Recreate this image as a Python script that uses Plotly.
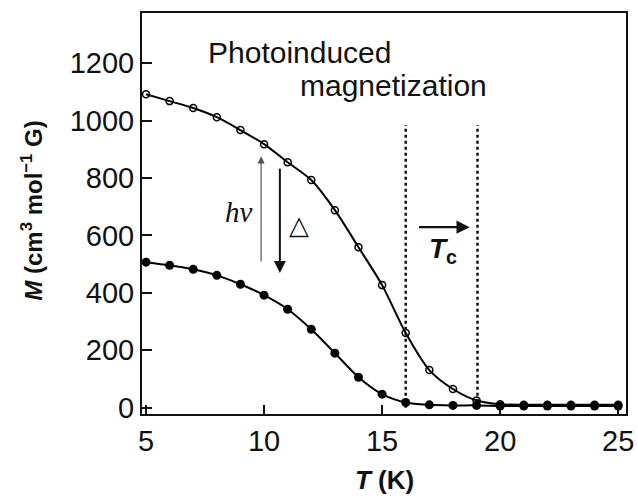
import plotly.graph_objects as go

# Data
T_photo = [5, 6, 7, 8, 9, 10, 11, 12, 13, 14, 15, 16, 17, 18, 19, 20, 21, 22, 23, 24, 25]
M_photo = [1092, 1068, 1044, 1012, 967, 918, 855, 793, 688, 559, 427, 260, 131, 65, 25, 12, 10, 10, 10, 10, 10]

T_dark = [5, 6, 7, 8, 9, 10, 11, 12, 13, 14, 15, 16, 17, 18, 19, 20, 21, 22, 23, 24, 25]
M_dark = [507, 496, 482, 461, 430, 392, 343, 273, 190, 106, 47, 18, 10, 8, 8, 6, 6, 6, 6, 6, 6]

Tc_lines = [16.0, 19.04]
Tc_line_M = [0, 985]

x_ticks = [5, 10, 15, 20, 25]
y_ticks = [0, 200, 400, 600, 800, 1000, 1200]

FONT = "Liberation Sans, Arial, sans-serif"

fig = go.Figure()

for t in Tc_lines:
    fig.add_trace(go.Scatter(x=[t, t], y=Tc_line_M, mode="lines",
                             line=dict(color="#111", width=2.5, dash="dot"),
                             showlegend=False, hoverinfo="skip"))

fig.add_trace(go.Scatter(x=T_photo, y=M_photo, mode="lines+markers",
                         line=dict(color="black", width=2, shape="spline", smoothing=0.8),
                         marker=dict(symbol="circle-open", size=7, color="black", line=dict(width=1.5)),
                         showlegend=False))
fig.add_trace(go.Scatter(x=T_dark, y=M_dark, mode="lines+markers",
                         line=dict(color="black", width=2, shape="spline", smoothing=0.8),
                         marker=dict(symbol="circle", size=9, color="black"),
                         showlegend=False))

ann = []
ann.append(dict(x=7.54, y=1239, text="Photoinduced", showarrow=False, xanchor="left",
                yanchor="middle", font=dict(family=FONT, size=30, color="#111")))
ann.append(dict(x=11.42, y=1124, text="magnetization", showarrow=False, xanchor="left",
                yanchor="middle", font=dict(family=FONT, size=30, color="#111")))
ann.append(dict(x=8.92, y=681, text="<i>hν</i>", showarrow=False,
                font=dict(family="Liberation Serif, Times New Roman, serif", size=29, color="#111")))
ann.append(dict(x=11.5, y=636, text="△", showarrow=False,
                font=dict(family="DejaVu Sans", size=26, color="#111")))
ann.append(dict(x=17.58, y=549, text="<b><i>T</i></b><b><sub>c</sub></b>", showarrow=False,
                font=dict(family=FONT, size=28, color="#111")))
# arrows
ann.append(dict(x=9.875, y=876, ax=9.875, ay=504, xref="x", yref="y", axref="x", ayref="y",
                text="", showarrow=True, arrowhead=2, arrowsize=1.2, arrowwidth=1.2, arrowcolor="#555"))
ann.append(dict(x=10.67, y=469, ax=10.67, ay=838, xref="x", yref="y", axref="x", ayref="y",
                text="", showarrow=True, arrowhead=2, arrowsize=1.2, arrowwidth=2, arrowcolor="#111"))
ann.append(dict(x=18.71, y=629, ax=16.5, ay=629, xref="x", yref="y", axref="x", ayref="y",
                text="", showarrow=True, arrowhead=2, arrowsize=1.2, arrowwidth=2.2, arrowcolor="#111"))
# axis titles
ann.append(dict(x=0.5, y=-0.1646, xref="paper", yref="paper", showarrow=False,
                xanchor="center", yanchor="middle",
                text="<b><i>T</i> (K)</b>", font=dict(family=FONT, size=26, color="#111")))
ann.append(dict(x=-0.2276, y=0.509, xref="paper", yref="paper", showarrow=False, textangle=-90,
                xanchor="center", yanchor="middle",
                text="<b><i>M</i> (cm<sup>3</sup> mol<sup>−1</sup> G)</b>",
                font=dict(family=FONT, size=24, color="#111")))

fig.update_layout(
    width=638, height=496,
    margin=dict(l=142, r=4, t=13, b=82),
    paper_bgcolor="white", plot_bgcolor="white",
    annotations=ann,
    xaxis=dict(range=[4.83, 25.33], tickvals=x_ticks, ticks="inside", ticklen=9, tickwidth=1.5,
               tickcolor="#111", showline=True, linecolor="#111", linewidth=2, mirror=True,
               showgrid=False, zeroline=False, ticklabeloverflow="allow",
               tickfont=dict(family=FONT, size=29, color="#111")),
    yaxis=dict(range=[-22, 1375], tickvals=y_ticks, ticks="inside", ticklen=10, tickwidth=1.5,
               tickcolor="#111", showline=True, linecolor="#111", linewidth=2, mirror=True,
               showgrid=False, zeroline=False,
               tickfont=dict(family=FONT, size=29, color="#111")),
)

fig.write_html("out.html", config={"displayModeBar": False},
               post_script="document.body.style.margin='0';")
